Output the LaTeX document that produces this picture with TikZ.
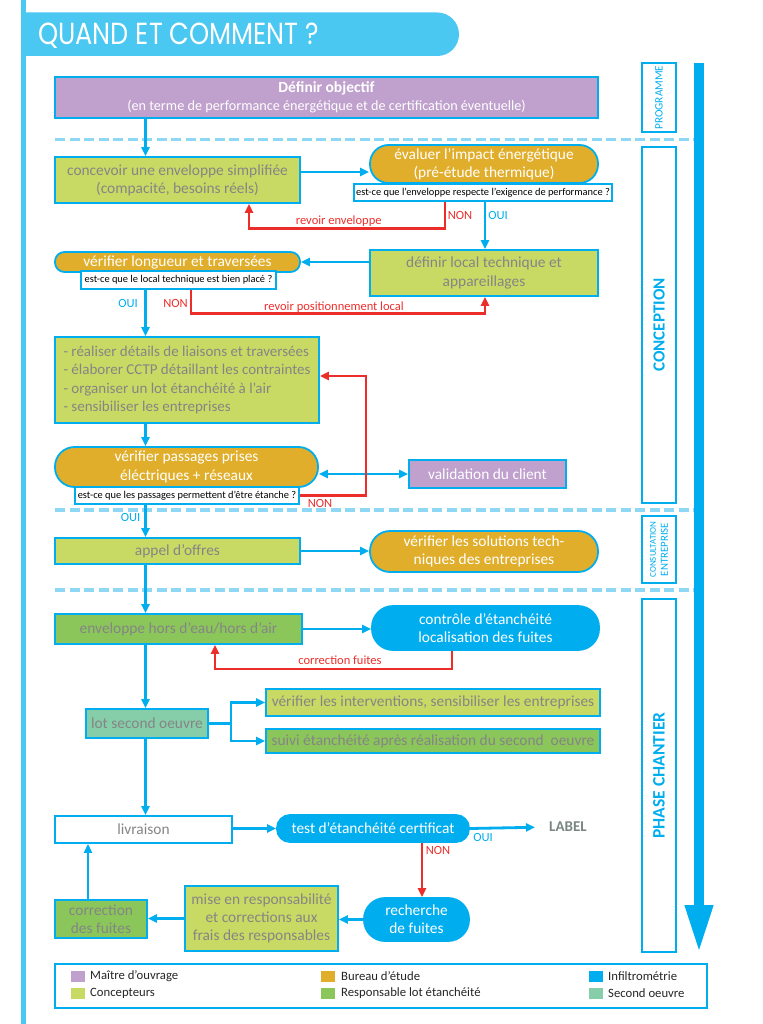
\documentclass[tikz,border=0pt]{standalone}
\usepackage{fontspec}
\setmainfont{Carlito}
\newfontfamily\hdrfont{Poppins}[FakeStretch=0.84]
\usetikzlibrary{arrows.meta,calc}
\definecolor{cB}{HTML}{00AEEF}
\definecolor{cL}{HTML}{4AC8F2}
\definecolor{cD}{HTML}{8ED8F5}
\definecolor{cP}{HTML}{C0A0CD}
\definecolor{cY}{HTML}{C9DA64}
\definecolor{cO}{HTML}{E0AE2A}
\definecolor{cG}{HTML}{8BC65B}
\definecolor{cT}{HTML}{86CDA9}
\definecolor{cR}{HTML}{EC2E2B}
\definecolor{cTx}{HTML}{858585}
\definecolor{cLb}{HTML}{7A8682}
\begin{document}
\begin{tikzpicture}[x=1pt,y=-1pt,
 bx/.style={draw=cB, line width=1.8pt, inner sep=0pt, align=center, text=cTx, font=\fontsize{15.4}{18.2}\selectfont},
 pill/.style={bx, text=white},
 qb/.style={draw=cB, fill=white, line width=1.5pt, inner sep=0pt, align=center, text=black, font=\fontsize{10.4}{12}\selectfont},
 arr/.style={draw=cB, line width=2.8pt, -{Triangle[length=9pt,width=8pt]}},
 darr/.style={draw=cB, line width=2.8pt, {Triangle[length=9pt,width=8pt]}-{Triangle[length=9pt,width=8pt]}},
 rarr/.style={draw=cR, line width=2.8pt, -{Triangle[length=9pt,width=8pt]}},
 lbR/.style={text=cR, font=\fontsize{12.5}{14}\selectfont, inner sep=0pt},
 lbB/.style={text=cB, font=\fontsize{12.5}{14}\selectfont, inner sep=0pt},
 col/.style={draw=cB, line width=1.5pt, fill=white, rotate=90, inner sep=0pt, text=cB, align=center},
 leg/.style={anchor=west, inner sep=0pt, text=black!85, font=\fontsize{12.7}{14}\selectfont},
]
\useasboundingbox (0,0) rectangle (762,1024);
% left line and header
\draw[cL, line width=5pt] (23.5,0) -- (23.5,1024);
\fill[cL] (21,12.5) [rounded corners=21.7pt] -- (459,12.5) -- (459,56) [sharp corners] -- (21,56) -- cycle;
\node[anchor=base west, inner sep=0pt, text=white, font=\hdrfont\fontsize{30.5}{30}\selectfont] (title) at (38,45) {QUAND ET COMMENT ?};

% dashed separators
\foreach \yy in {139.5,510,590}
  \draw[cD, line width=3.5pt, dash pattern=on 10pt off 4.5pt] (55,\yy) -- (694,\yy);

% right column
\node[col, minimum width=69pt, minimum height=34pt, font=\fontsize{11.3}{12}\selectfont] (prog) at (659,97.5) {PROGRAMME};
\node[col, minimum width=356pt, minimum height=34pt, font=\bfseries\fontsize{17}{18}\selectfont] (concep) at (659,325) {CONCEPTION};
\node[col, minimum width=67pt, minimum height=34pt] (consult) at (659,549.5) {{\fontsize{9}{11}\selectfont CONSULTATION}\\{\fontsize{10.8}{12}\selectfont ENTREPRISE}};
\node[col, minimum width=353pt, minimum height=34pt, font=\bfseries\fontsize{17.5}{18}\selectfont] (chantier) at (659,775.5) {PHASE CHANTIER};
\coordinate (atop) at (699,63);
\coordinate (abot) at (699,953);
\draw[cB, line width=10pt, -{Triangle[length=48pt,width=26pt]}] (atop) -- (abot);

% nodes
\node[bx, fill=cP, text=white, minimum width=543pt, minimum height=41pt] (obj) at (326.5,97.5) {{\bfseries\fontsize{15.5}{18}\selectfont Définir objectif}\\{\fontsize{14.2}{18}\selectfont (en terme de performance énergétique et de certification éventuelle)}};
\node[bx, fill=cY, minimum width=245pt, minimum height=46pt] (conc) at (177.5,180) {concevoir une enveloppe simplifiée\\(compacité, besoins réels)};
\node[pill, fill=cO, rounded corners=18.5pt, minimum width=228pt, minimum height=38pt] (eval) at (484,164) {évaluer l’impact énergétique\\(pré-étude thermique)};
\node[qb, minimum width=258pt, minimum height=17pt] (q1) at (483,192.5) {est-ce que l’enveloppe respecte l’exigence de performance ?};
\node[bx, fill=cY, minimum width=228pt, minimum height=46pt] (def) at (484,273) {définir local technique et\\appareillages};
\node[pill, fill=cO, rounded corners=9.5pt, minimum width=245pt, minimum height=20pt] (verlong) at (177.5,262) {vérifier longueur et traversées};
\node[qb, minimum width=195pt, minimum height=18pt] (q2) at (178.5,280) {est-ce que le local technique est bien placé ?};
\node[bx, fill=cY, minimum width=264pt, minimum height=86pt, align=left, font=\fontsize{15}{18.3}\selectfont] (liste) at (187,380) {- réaliser détails de liaisons et traversées\\- élaborer CCTP détaillant les contraintes\\- organiser un lot étanchéité à l’air\\- sensibiliser les entreprises};
\node[pill, fill=cO, rounded corners=19.5pt, minimum width=263pt, minimum height=40pt] (verpass) at (186.5,467) {vérifier passages prises\\éléctriques + réseaux};
\node[qb, minimum width=224pt, minimum height=17pt] (q3) at (187,495.5) {est-ce que les passages permettent d’être étanche ?};
\node[bx, fill=cP, text=white, minimum width=157pt, minimum height=28pt] (valid) at (487.5,474) {validation du client};
\node[bx, fill=cY, minimum width=245pt, minimum height=26pt] (appel) at (177.5,551) {appel d’offres};
\node[pill, fill=cO, rounded corners=20pt, minimum width=228pt, minimum height=41pt] (versol) at (484,551.5) {vérifier les solutions tech-\\niques des entreprises};
\node[bx, fill=cG, minimum width=247pt, minimum height=30pt] (env) at (178.5,629) {enveloppe hors d’eau/hors d’air};
\node[pill, fill=cB, rounded corners=21pt, minimum width=227pt, minimum height=44pt] (ctrl) at (485.5,628) {contrôle d’étanchéité\\localisation des fuites};
\node[bx, fill=cT, minimum width=122pt, minimum height=29pt] (lot) at (147,723.5) {lot second oeuvre};
\node[bx, fill=cY, minimum width=334pt, minimum height=27pt] (verint) at (433,702.5) {vérifier les interventions, sensibiliser les entreprises};
\node[bx, fill=cG, minimum width=334pt, minimum height=24pt] (suivi) at (433,741) {suivi étanchéité après réalisation du second~ oeuvre};
\node[bx, fill=white, minimum width=177pt, minimum height=27pt] (livr) at (143.5,829.5) {livraison};
\node[pill, fill=cB, rounded corners=13pt, minimum width=192pt, minimum height=27pt] (test) at (373,828.5) {test d’étanchéité certificat};
\node[anchor=west, inner sep=0pt, text=cLb, font=\bfseries\fontsize{15}{16}\selectfont] (lbl) at (549,827) {LABEL};
\node[pill, fill=cB, rounded corners=21pt, minimum width=105pt, minimum height=43pt] (rech) at (416.5,919.5) {recherche\\de fuites};
\node[bx, fill=cY, minimum width=153pt, minimum height=65pt] (mise) at (261.5,918.5) {mise en responsabilité\\et corrections aux\\frais des responsables};
\node[bx, fill=cG, minimum width=92pt, minimum height=38pt] (corr) at (101,919) {correction\\des fuites};

% helper coordinates
\coordinate (sp) at (145.5,0);
\coordinate (x485) at (485,0);
\coordinate (x445) at (445,0);
\coordinate (x249) at (249,0);
\coordinate (x191) at (191,0);
\coordinate (x452) at (452,0);
\coordinate (x215) at (215,0);
\coordinate (x422) at (422,0);
\coordinate (x88) at (88,0);
\coordinate (rn) at (366,376);
\coordinate (xb) at (231,0);

% connectors
\draw[arr] (obj.south -| sp) -- (conc.north -| sp);
\draw[arr] ([yshift=8pt]conc.east) -- ([yshift=8pt]conc.east -| eval.west);
\draw[arr] (q1.south -| x485) -- (def.north -| x485);
\draw[rarr] (q1.south -| x445) -- ++(0,27) -| (conc.south -| x249);
\draw[arr] (def.west |- verlong.east) -- (verlong.east);
\draw[arr] (q2.south -| sp) -- (liste.north -| sp);
\draw[rarr] (q2.south -| x191) -- ++(0,24) -| (def.south -| x485);
\draw[arr] (liste.south -| sp) -- (verpass.north -| sp);
\draw[darr] (valid.west -| verpass.east) -- (valid.west);
\draw[rarr] (q3.east) -| (rn) -- (rn -| liste.east);
\draw[arr] (q3.south -| sp) -- (appel.north -| sp);
\draw[arr] (appel.east) -- (appel.east -| versol.west);
\draw[arr] (appel.south -| sp) -- (env.north -| sp);
\draw[arr] (env.east) -- (env.east -| ctrl.west);
\draw[rarr] (ctrl.south -| x452) -- ++(0,18) -| (env.south -| x215);
\draw[arr] (env.south -| sp) -- (lot.north -| sp);
\draw[cB, line width=2.8pt] (lot.east) -- (xb |- lot.east);
\draw[arr] (xb |- lot.east) |- (verint.west);
\draw[arr] (xb |- lot.east) |- (suivi.west);
\draw[arr] (lot.south -| sp) -- (livr.north -| sp);
\draw[arr] (livr.east |- test.west) -- (test.west);
\draw[arr, shorten >=14pt] (test.east) -- (lbl.west);
\draw[rarr] (test.south -| x422) -- (rech.north -| x422);
\draw[arr] (rech.west) -- (rech.west -| mise.east);
\draw[arr] (mise.west) -- (mise.west -| corr.east);
\draw[arr] (corr.north -| x88) -- (livr.south -| x88);

% labels
\node[lbR] (non1) at (460,215.7) {NON};
\node[lbB] (oui1) at (498,215.7) {OUI};
\node[lbR] (rev1) at (338.7,220.7) {revoir enveloppe};
\node[lbB] (oui2) at (128,303.7) {OUI};
\node[lbR] (non2) at (175.5,303.7) {NON};
\node[lbR] (rev2) at (334,306.7) {revoir positionnement local};
\node[lbR] (non3) at (320,503) {NON};
\node[lbB] (oui3) at (130.6,517.7) {OUI};
\node[lbR] (rev3) at (340,660) {correction fuites};
\node[lbB] (oui4) at (483,837.3) {OUI};
\node[lbR] (non4) at (438,850.7) {NON};

% legend
\node[draw=cB, line width=1.8pt, fill=white, minimum width=652pt, minimum height=44pt, inner sep=0pt] (legend) at (381,986) {};
\fill[cP] (71,970.5) rectangle (85,982);
\node[leg] (l1) at (90,976) {Maître d’ouvrage};
\fill[cY] (71,987.5) rectangle (85,999);
\node[leg] (l2) at (90,993) {Concepteurs};
\fill[cO] (321,970.5) rectangle (335,982);
\node[leg] (l3) at (341,976) {Bureau d’étude};
\fill[cG] (321,987.5) rectangle (335,999);
\node[leg] (l4) at (341,993) {Responsable lot étanchéité};
\fill[cB] (589,970.5) rectangle (603,982);
\node[leg] (l5) at (608,976) {Infiltrométrie};
\fill[cT] (589,987.5) rectangle (603,999);
\node[leg] (l6) at (608,993) {Second oeuvre};
\end{tikzpicture}
\end{document}
